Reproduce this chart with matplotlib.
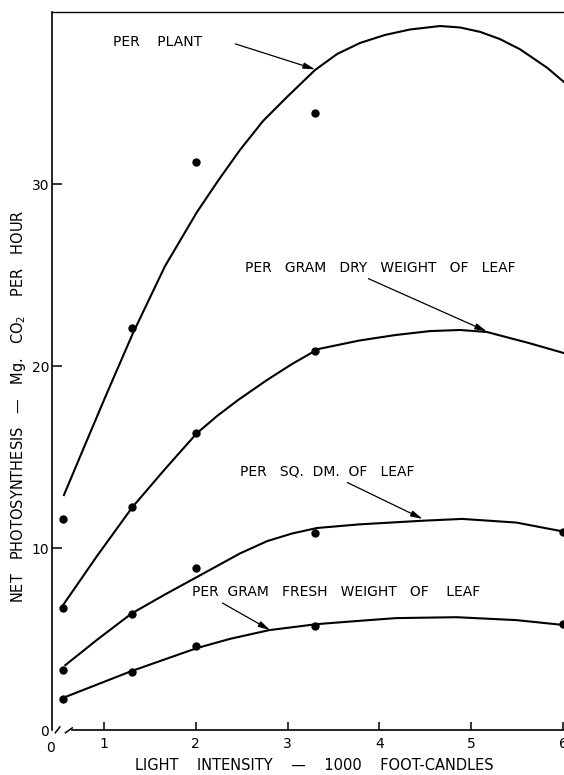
import numpy as np
import matplotlib
matplotlib.use("Agg")
import matplotlib.pyplot as plt

# observed points (thousand foot-candles, mg CO2 per hour)
light = [0.55, 1.3, 2.0, 3.3]
per_plant = [11.6, 22.1, 31.2, 33.9]
per_dry = [6.7, 12.25, 16.3, 20.8]
per_sqdm = [3.3, 6.4, 8.9, 10.8, 10.9]
per_fresh = [1.7, 3.2, 4.6, 5.7, 5.8]
light_ext = [0.55, 1.3, 2.0, 3.3, 6.0]

# fitted curves
plant_cx = [0.564, 0.793, 1.033, 1.316, 1.665, 2.013, 2.244, 2.481, 2.732, 2.993, 3.298,
            3.538, 3.789, 4.061, 4.333, 4.66, 4.878, 5.096, 5.314, 5.532, 5.826, 6.01]
plant_cy = [12.91, 15.66, 18.52, 21.81, 25.49, 28.46, 30.19, 31.87, 33.46, 34.78, 36.26,
            37.14, 37.75, 38.19, 38.49, 38.68, 38.6, 38.36, 37.96, 37.4, 36.39, 35.6]
dry_cx = [0.54, 0.924, 1.31, 1.665, 2.01, 2.231, 2.46, 2.775, 3.048, 3.331, 3.78, 4.17,
          4.551, 4.878, 5.17, 5.63, 6.01]
dry_cy = [6.76, 9.56, 12.25, 14.34, 16.3, 17.25, 18.13, 19.23, 20.11, 20.93, 21.4, 21.7,
          21.92, 21.98, 21.87, 21.26, 20.71]
sq_cx = [0.58, 0.935, 1.30, 1.665, 2.01, 2.48, 2.777, 3.05, 3.32, 3.78, 4.47, 4.9, 5.49, 6.01]
sq_cy = [3.57, 5.0, 6.4, 7.45, 8.4, 9.7, 10.38, 10.8, 11.1, 11.3, 11.5, 11.6, 11.4, 10.9]
fresh_cx = [0.55, 1.3, 2.01, 2.373, 2.8, 3.32, 3.78, 4.18, 4.84, 5.49, 6.01]
fresh_cy = [1.76, 3.24, 4.5, 5.01, 5.49, 5.82, 6.0, 6.15, 6.2, 6.04, 5.77]

xticks = [1, 2, 3, 4, 5, 6]
yticks = [0, 10, 20, 30]

fig = plt.figure(figsize=(5.64, 7.75), dpi=100)
ax = fig.add_axes([0.0922, 0.058, 0.9078, 0.9265])

lw = 1.5
for cx, cy in [(plant_cx, plant_cy), (dry_cx, dry_cy), (sq_cx, sq_cy), (fresh_cx, fresh_cy)]:
    ax.plot(cx, cy, color='black', lw=lw, solid_joinstyle='round', clip_on=False)

ms = 5
ax.plot(light, per_plant, 'o', color='black', ms=ms, clip_on=False)
ax.plot(light, per_dry, 'o', color='black', ms=ms, clip_on=False)
ax.plot(light_ext, per_sqdm, 'o', color='black', ms=ms, clip_on=False)
ax.plot(light_ext, per_fresh, 'o', color='black', ms=ms, clip_on=False)

ax.set_xlim(0.434, 6.01)
ax.set_ylim(0, 39.45)

ax.spines['right'].set_visible(False)
ax.spines['bottom'].set_visible(False)
ax.spines['left'].set_linewidth(1.2)
ax.spines['top'].set_linewidth(1.0)

# broken x axis
ax.plot([0.65, 6.01], [0, 0], color='black', lw=1.2, clip_on=False)
ax.plot([0.47, 0.52], [-0.15, 0.17], color='black', lw=1.1, clip_on=False)
ax.plot([0.58, 0.655], [-0.15, 0.12], color='black', lw=1.1, clip_on=False)

ax.set_xticks(xticks)
ax.set_xticklabels([str(t) for t in xticks])
ax.set_yticks(yticks)
ax.set_yticklabels([str(t) for t in yticks])
ax.tick_params(axis='x', direction='in', length=6, width=1.1, pad=5, labelsize=10)
ax.tick_params(axis='y', direction='in', length=7, width=1.1, pad=2, labelsize=10)
ax.get_yticklines()[0].set_visible(False)
ax.text(0.42, -0.6, '0', ha='center', va='top', fontsize=10)

fig.text(314 / 564, 0.003, 'LIGHT    INTENSITY    —    1000    FOOT-CANDLES',
         ha='center', va='bottom', fontsize=10.5)
fig.text(19 / 564, 1 - 406 / 775, 'NET   PHOTOSYNTHESIS   —   Mg.   CO$_2$    PER   HOUR',
         ha='center', va='center', rotation=90, fontsize=10.5)

arrow = dict(arrowstyle='-|>,head_length=0.7,head_width=0.18', color='black', lw=0.9,
             shrinkA=0, shrinkB=0)
fs = 10
ax.annotate('', xy=(3.30, 36.3), xytext=(2.43, 37.7), arrowprops=arrow)
ax.text(1.10, 37.8, 'PER    PLANT', ha='left', va='center', fontsize=fs)
ax.annotate('', xy=(5.17, 21.9), xytext=(3.88, 24.8), arrowprops=arrow)
ax.text(2.54, 25.4, 'PER   GRAM   DRY   WEIGHT   OF   LEAF', ha='left', va='center', fontsize=fs)
ax.annotate('', xy=(4.47, 11.6), xytext=(3.65, 13.6), arrowprops=arrow)
ax.text(2.48, 14.2, 'PER   SQ.  DM.  OF   LEAF', ha='left', va='center', fontsize=fs)
ax.annotate('', xy=(2.81, 5.49), xytext=(2.29, 6.98), arrowprops=arrow)
ax.text(1.96, 7.6, 'PER  GRAM   FRESH   WEIGHT   OF    LEAF', ha='left', va='center', fontsize=fs)

fig.savefig('out.png', dpi=100)
